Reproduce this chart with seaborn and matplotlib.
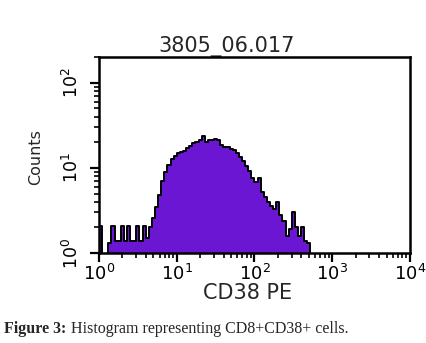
import numpy as np
import matplotlib.pyplot as plt
import seaborn as sns

# -------------------------
# Data
# -------------------------
title = "3805_06.017"
x_label = "CD38 PE"
y_label = "Counts"
caption_bold = "Figure 3:"
caption_text = "Histogram representing CD8+CD38+ cells."

n_bins = 100
decades = (0, 4)

# counts per channel, starting at 10^0 (channels beyond the last value are empty)
counts = [
    2.1, 0.0, 0.0, 1.3, 2.1, 1.4, 1.4, 2.1, 1.4, 2.1,
    1.4, 1.4, 2.1, 1.4, 2.1, 1.5, 2.0, 2.6, 3.5, 4.8,
    7.1, 8.9, 10.7, 12.6, 13.8, 15.1, 15.5, 15.8, 17.0, 18.2,
    19.5, 20.0, 21.4, 23.4, 20.0, 21.4, 21.0, 21.9, 21.0, 18.6,
    17.8, 17.4, 16.6, 16.2, 14.8, 13.5, 12.0, 10.5, 9.3, 7.6,
    6.9, 7.6, 5.2, 4.6, 4.0, 3.6, 3.3, 4.0, 2.8, 2.4,
    1.6, 1.9, 3.0, 2.0, 1.6, 2.0, 1.4, 1.3,
]

x_ticks = [1, 10, 100, 1000, 10000]
y_ticks = [1, 10, 100]

fill_color = "#6a16d2"

# -------------------------
# Build channel table
# -------------------------
width = (decades[1] - decades[0]) / n_bins
weights = np.zeros(n_bins)
weights[:len(counts)] = counts
centers = 10 ** (decades[0] + (np.arange(n_bins) + 0.5) * width)

# -------------------------
# Plot
# -------------------------
sns.set_style("ticks")
plt.rcParams["font.family"] = ["DejaVu Sans"]

fig = plt.figure(figsize=(4.27, 3.43), dpi=100)
ax = fig.add_axes([0.232, 0.262, 0.728, 0.572])

sns.histplot(
    x=centers,
    weights=weights,
    bins=n_bins,
    binrange=decades,
    log_scale=True,
    element="step",
    fill=True,
    color=fill_color,
    alpha=1,
    edgecolor="black",
    linewidth=1.4,
    ax=ax,
)
# log count axis set afterwards so empty channels reach the floor
ax.set_yscale("log")

ax.set_xlim(1, 10000)
ax.set_ylim(1, 200)
ax.set_xticks(x_ticks)
ax.set_yticks(y_ticks)

for side in ["top", "right", "left", "bottom"]:
    ax.spines[side].set_visible(True)
    ax.spines[side].set_linewidth(1.8)
    ax.spines[side].set_color("black")
    ax.spines[side].set_zorder(5)

ax.tick_params(which="major", direction="out", length=6.5, width=1.6, colors="black")
ax.tick_params(axis="x", which="major", labelsize=13, pad=1)
ax.tick_params(axis="y", which="major", labelsize=12.5, pad=6, labelrotation=90)
ax.tick_params(which="minor", direction="out", length=3.5, width=1.4)
for lbl in ax.get_yticklabels():
    lbl.set_va("center")

ax.set_title(title, fontsize=15, pad=3, x=(227 - 99) / 311)
ax.set_xlabel(x_label, fontsize=15)
ax.set_ylabel(y_label, fontsize=11.5)
ax.xaxis.set_label_coords((248 - 99) / 311, -0.15)
ax.yaxis.set_label_coords(-0.18, 0.49)

# caption: bold lead-in followed by regular text
fig.canvas.draw()
t1 = fig.text(0.01, 0.029, caption_bold, fontsize=11.5, fontweight="bold",
              family=["Liberation Serif"], va="baseline")
bb = t1.get_window_extent(fig.canvas.get_renderer())
fig.text((bb.x1 + 4) / fig.bbox.width, 0.029, caption_text, fontsize=11.5,
         family=["Liberation Serif"], va="baseline")

fig.savefig("out.png", dpi=100)
